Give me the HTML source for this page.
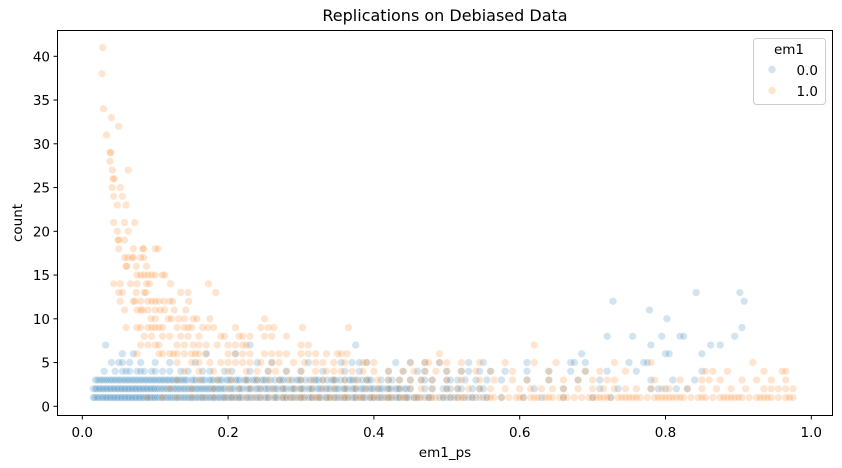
<!DOCTYPE html>
<html><head><meta charset="utf-8"><style>
body{margin:0;background:#fff;}
svg{display:block;font-family:"DejaVu Sans","Liberation Sans",sans-serif;}
</style></head><body>
<svg id="chart" width="842" height="468">
<rect width="842" height="468" fill="#fff"/>
<text x="445" y="21" font-size="16" text-anchor="middle">Replications on Debiased Data</text>
<g id="marks"></g>
<rect x="57.5" y="30.5" width="775" height="385" fill="none" stroke="#000" stroke-width="1"/>
<g id="axes" font-size="13.5"></g>
<text x="445" y="457" font-size="13.5" text-anchor="middle">em1_ps</text>
<text x="22" y="223" font-size="13.5" text-anchor="middle" transform="rotate(-90 22 223)">count</text>
<g>
<rect x="753.5" y="38.5" width="72" height="66" rx="3" fill="#fff" fill-opacity="0.8" stroke="#ccc"/>
<text x="789" y="54" font-size="13.5" text-anchor="middle">em1</text>
<g><circle cx="772" cy="69.5" r="3.7" fill="#1f77b4" fill-opacity="0.2"/><text x="818" y="75" font-size="13.5" text-anchor="end">0.0</text></g>
<g><circle cx="772" cy="90.5" r="3.7" fill="#ff7f0e" fill-opacity="0.2"/><text x="818" y="96" font-size="13.5" text-anchor="end">1.0</text></g>
</g>
</svg>
<script>
const xTicks=[0.0,0.2,0.4,0.6,0.8,1.0];
const xTickLabels=["0.0","0.2","0.4","0.6","0.8","1.0"];
const yTicks=[0,5,10,15,20,25,30,35,40];
// blue (em1=0): x values in thousandths per count row
const blueRow1=[15,20,25,30,35,40,45,50,55,60,65,70,75,80,85,90,95,100,106,112,118,124,130,136,142,148,154,160,166,172,178,184,190,196,202,208,214,220,226,232,238,244,250,256,262,268,274,280,286,292,298,304,310,316,322,328,334,340,346,352,358,364,370,376,382,388,394,400,406,412,418,424,430,436,442,448,455,462,470,478,490,500,505,515,523,530,540,555,575,605,630,660,700,725];
const blueRow1b=[17,22,28,33,38,43,48,53,58,63,68,73,78,83,88,93,98,103,109,115,121,127,133,139,145,151,157,163,169,175,181,187,193,199,205,211,217,229,241,253,265,277,289,301,313,325,337,349,361,373,385,397,409,421,433,445,458,475,495,510,535,550];
const blueRow2=[15,20,25,30,35,40,45,50,55,60,65,70,75,80,85,90,95,100,106,112,118,124,130,136,142,148,154,160,166,172,178,184,190,196,202,208,214,220,226,232,238,244,250,256,262,268,274,280,286,292,298,304,310,316,322,328,334,340,346,352,358,364,370,376,382,388,394,400,406,412,418,424,430,436,442,450,480,495,505,520,535,550,620,660,710,735,780,790,800,815,830];
const blueRow2b=[18,23,28,33,38,43,48,53,58,63,68,73,78,83,88,93,98,103,109,115,121,127,133,139,145,151,157,163,169,175,181,187,193,205,217,229,241,253,265,277,289,301,313,325,337,349,361,373,385,397,409,421,433,445,470,500,515,545];
const blueRow3=[18,24,30,36,42,48,54,60,66,72,78,84,90,96,102,108,114,120,126,132,138,144,150,156,162,168,174,180,186,192,198,204,210,216,222,228,234,240,246,252,258,264,270,276,282,288,294,300,306,312,318,324,330,336,342,348,354,360,366,372,378,384,390,396,410,420,435,450,470,480,500,515,525,540,555,575,610,640,680,710,780,810,840];
const blueRow3b=[21,27,33,39,45,51,57,63,69,75,81,87,93,99,105,111,117,123,129,135,141,153,165,177,189,201,213,225,237,249,273,297,321,345,369,393,425,465,505];
const blueRow4=[30,45,55,60,65,75,80,85,95,100,110,120,135,145,165,175,195,205,230,255,280,300,330,360,380,420,440,460,470,500,520,530,545,560,580,610,640,670,690,720,760,850];
const blueHighX=[40,50,55,65,80,100,120,155,240,260,310,355,370,380,390,430,450,470,490,530,550,610,670,675,690,750,770,775,55,70,170,210,685,800,805,850,32,230,375,780,862,875,720,755,795,820,825,895,905,802,778,728,908,842,902];
const blueHighY=[5,5,5,5,5,5,5,5,5,5,5,5,5,5,5,5,5,5,5,5,5,5,5,5,5,5,5,5,6,6,6,6,6,6,6,6,7,7,7,7,7,7,8,8,8,8,8,8,9,10,11,12,12,13,13];
// orange (em1=1)
const orangeRow1=[90,110,130,150,165,180,195,205,215,225,235,245,255,265,275,285,295,305,315,325,335,345,355,365,375,385,395,405,415,425,435,445,455,465,475,485,495,505,515,525,535,545,555,565,575,585,595,605,615,625,635,645,655,665,675,685,695,705,715,725,735,745,755,765,775,785,795,805,815,825,835,845,855,865,875,885,895,905,915,925,935,945,955,965,975];
const orangeRow1b=[280,300,320,340,360,380,400,420,440,460,480,520,560,600,620,640,660,700,710,720,740,750,760,790,800,810,820,850,880,890,900,930,940,970];
const orangeRow2=[120,150,180,200,215,230,245,260,275,290,300,315,330,345,360,375,390,405,420,435,450,465,480,500,515,530,545,560,580,600,615,630,645,660,680,700,715,730,745,760,780,795,805,830,850,870,890,910,935,945,955,965,975];
const orangeRow3=[130,160,185,205,225,240,255,270,285,300,315,330,345,360,375,390,405,420,435,450,465,480,500,520,545,565,590,610,640,660,680,700,720,730,785,820,850,860,875,905,925,945,965];
const orangeRow4=[140,160,180,200,225,240,255,265,280,300,320,335,345,355,370,385,400,420,440,455,470,485,500,520,540,560,590,640,690,710,745,855,865,885,935,960,965];
const orangeRow5=[130,150,160,175,190,200,210,220,230,245,260,270,290,305,320,330,345,360,385,390,400,450,470,475,490,500,520,545,580,620,650,730,780,920];
const orangeHighX=[28,27,29,40,50,33,38,39,38,41,63,42,44,41,52,43,55,48,60,43,58,72,48,63,49,50,58,50,70,83,84,100,104,58,62,68,70,80,84,60,61,74,88,75,80,85,90,95,100,110,113,173,43,52,66,75,88,92,121,50,55,74,85,87,135,145,183,52,70,72,80,90,95,100,105,112,120,124,146,58,75,80,83,90,100,107,113,126,142,94,100,118,122,132,140,152,157,175,250,60,75,80,90,95,100,105,110,130,140,145,150,165,172,180,210,245,255,263,302,365,85,95,110,120,135,145,160,190,195,215,220,230,250,260,280,80,90,100,105,130,140,152,160,170,185,200,220,210,225,300,310,620,75,105,110,120,125,130,140,150,155,160,170,200,210,220,230,250,260,270,280,300,310,320,335,350,355,363,490];
const orangeHighY=[41,38,34,33,32,31,29,29,28,27,27,26,26,25,25,24,24,23,23,21,21,21,20,20,19,19,19,18,18,18,18,18,18,17,17,17,17,17,17,16,16,16,16,15,15,15,15,15,15,15,15,14,14,14,14,14,14,14,14,13,13,13,13,13,13,13,13,12,12,12,12,12,12,12,12,12,12,12,12,11,11,11,11,11,11,11,11,11,11,10,10,10,10,10,10,10,10,10,10,9,9,9,9,9,9,9,9,9,9,9,9,9,9,9,9,9,9,9,9,9,8,8,8,8,8,8,8,8,8,8,8,8,8,8,8,7,7,7,7,7,7,7,7,7,7,7,7,7,7,7,7,7,6,6,6,6,6,6,6,6,6,6,6,6,6,6,6,6,6,6,6,6,6,6,6,6,6,6,6];

const xScale=v=>82.3+v*729;
const yScale=v=>406.3-v*8.75;
const NS="http://www.w3.org/2000/svg";
const axes=document.getElementById('axes');
xTicks.forEach((t,i)=>{
  const x=xScale(t);
  const l=document.createElementNS(NS,'line');
  l.setAttribute('x1',x);l.setAttribute('x2',x);l.setAttribute('y1',415.5);l.setAttribute('y2',419.5);l.setAttribute('stroke','#000');
  
  
  axes.appendChild(l);
  const tx=document.createElementNS(NS,'text');
  tx.setAttribute('x',x);tx.setAttribute('y',437);tx.setAttribute('text-anchor','middle');tx.textContent=xTickLabels[i];
  
  
  axes.appendChild(tx);
});
yTicks.forEach(t=>{
  const y=yScale(t);
  const l=document.createElementNS(NS,'line');
  l.setAttribute('x1',53.5);l.setAttribute('x2',57.5);l.setAttribute('y1',y);l.setAttribute('y2',y);l.setAttribute('stroke','#000');
  
  
  axes.appendChild(l);
  const tx=document.createElementNS(NS,'text');
  tx.setAttribute('x',50);tx.setAttribute('y',y+5);tx.setAttribute('text-anchor','end');tx.textContent=String(t);
  
  
  axes.appendChild(tx);
});
const marks=document.getElementById('marks');
function dot(xv,yv,color,name){
  const c=document.createElementNS(NS,'circle');
  c.setAttribute('cx',xScale(xv/1000));c.setAttribute('cy',yScale(yv));c.setAttribute('r',3.7);
  c.setAttribute('fill',color);c.setAttribute('fill-opacity',0.2);
  c.setAttribute('stroke','#fff');c.setAttribute('stroke-opacity',0.2);c.setAttribute('stroke-width',0.75);
  
  
  marks.appendChild(c);
}
const B='#1f77b4',O='#ff7f0e';
[[blueRow1,1],[blueRow1b,1],[blueRow2,2],[blueRow2b,2],[blueRow3,3],[blueRow3b,3],[blueRow4,4]].forEach(([r,y])=>r.forEach(x=>dot(x,y,B,'point-em1-0')));
blueHighX.forEach((x,i)=>dot(x,blueHighY[i],B,'point-em1-0'));
[[orangeRow1,1],[orangeRow1b,1],[orangeRow2,2],[orangeRow3,3],[orangeRow4,4],[orangeRow5,5]].forEach(([r,y])=>r.forEach(x=>dot(x,y,O,'point-em1-1')));
orangeHighX.forEach((x,i)=>dot(x,orangeHighY[i],O,'point-em1-1'));
</script>
</body></html>
